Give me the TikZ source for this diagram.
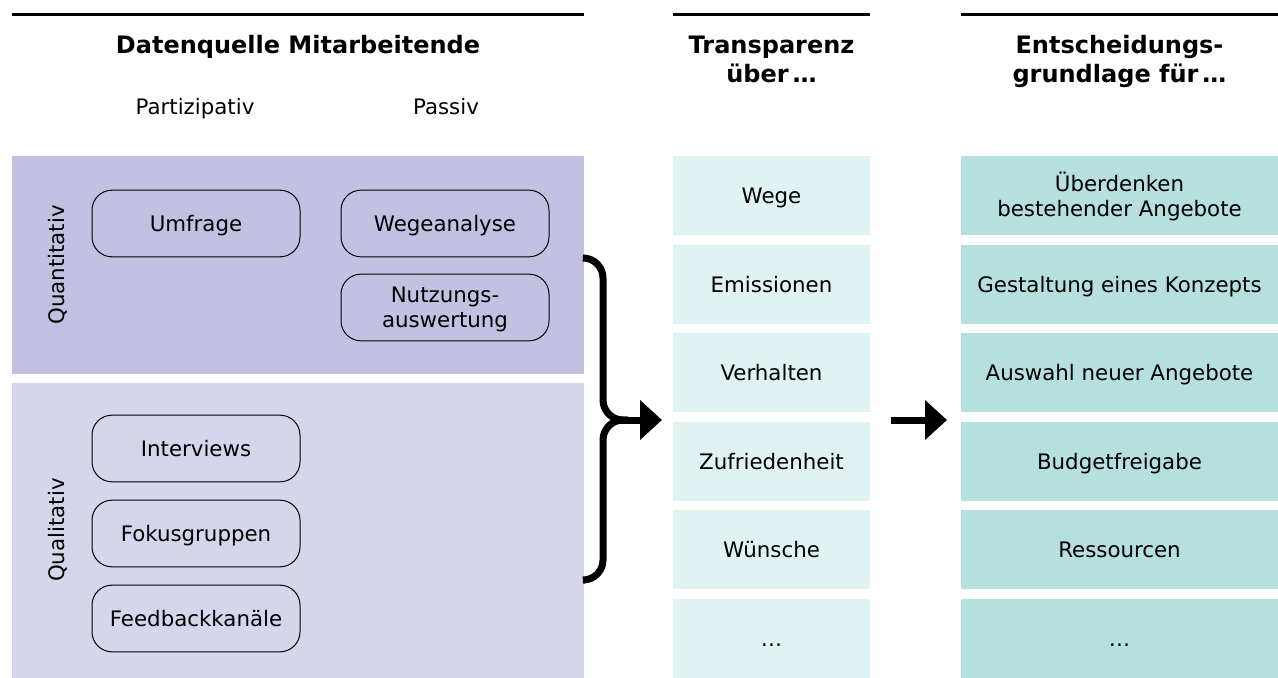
\documentclass[tikz,border=0pt]{standalone}
\usepackage{fontspec}
\setmainfont{DejaVu Sans}
\usetikzlibrary{arrows.meta}
\newcommand{\twoline}[2]{\begin{tabular}[t]{@{}c@{}}#1\\#2\end{tabular}}

\begin{document}
\begin{tikzpicture}[x=0.75pt,y=-0.75pt,
  headline/.style={line width=2.25pt},
  headtext/.style={font=\bfseries\fontsize{18}{21.75}\selectfont,align=center,text height=13.1pt,text depth=0pt},
  headpair/.style={text depth=21.75pt},
  bodytext/.style={font=\fontsize{16}{18.75}\selectfont,align=center,text height=11.7pt,text depth=0pt},
  bodypair/.style={text depth=18.75pt},
  panel/.style={anchor=north west,inner sep=0,minimum width=429pt},
  method/.style={bodytext,draw,line width=0.75pt,rounded corners=15pt,minimum width=156pt,minimum height=50pt},
  cell/.style={bodytext,inner sep=0,minimum height=59.6pt},
  fatarrow/.style={line width=5.25pt,-{Triangle[length=16.5pt,width=29pt]}}]
\definecolor{quant}{HTML}{C2C1E1}
\definecolor{qual}{HTML}{D5D5EB}
\definecolor{transp}{HTML}{E1F2F2}
\definecolor{basis}{HTML}{B5E0DD}
\useasboundingbox (0,0) rectangle (1278,678);
\draw[headline] (12,14) -- (584,14);
\draw[headline] (673,14) -- (870,14);
\draw[headline] (961,14) -- (1278,14);
\node[headtext] (srchead) at (298,44.7) {Datenquelle Mitarbeitende};
\node[headtext,headpair] (transphead) at (771.5,59.2) {\twoline{Transparenz}{über\,…}};
\node[headtext,headpair] (basishead) at (1119.5,59.2) {\twoline{Entscheidungs-}{grundlage für\,…}};
\node[bodytext] (partiz) at (195,107) {Partizipativ};
\node[bodytext] (passiv) at (446,107) {Passiv};
\node[panel,fill=quant,minimum height=163.5pt] (quantpanel) at (12,156) {};
\node[panel,fill=qual,minimum height=221.25pt] (qualpanel) at (12,383) {};
\node[bodytext,rotate=90] (quantlabel) at (57,265) {Quantitativ};
\node[bodytext,rotate=90] (quallabel) at (57,530) {Qualitativ};
\node[method] (umfrage) at (196,223.5) {Umfrage};
\node[method] (wege) at (445,223.5) {Wegeanalyse};
\node[method,bodypair] (nutzung) at (445,307.5) {\twoline{Nutzungs-}{auswertung}};
\node[method] (interviews) at (196,448.5) {Interviews};
\node[method] (fokus) at (196,533.5) {Fokusgruppen};
\node[method] (feedback) at (196,618.5) {Feedbackkanäle};
  \foreach \txt/\i in {Wege/0,Emissionen/1,Verhalten/2,Zufriedenheit/3,Wünsche/4,…/5}
  {  \node[cell,fill=transp,minimum width=147.75pt] (transp\i) at (771.5,195.75+88.5*\i) {\txt};}
\node[cell,bodypair,fill=basis,minimum width=237.75pt] (basis0) at (1119.5,195.75) {\twoline{Überdenken}{bestehender Angebote}};
  \foreach \txt/\i in {Gestaltung eines Konzepts/1,Auswahl neuer Angebote/2,Budgetfreigabe/3,Ressourcen/4,…/5}
  {  \node[cell,fill=basis,minimum width=237.75pt] (basis\i) at (1119.5,195.75+88.5*\i) {\txt};}
\coordinate (bracetop) at (585,258);
\coordinate (bracebot) at (585,580);
\coordinate (bracemid) at (603,420);
\coordinate (bracejoin) at (618,420);
\coordinate (tipa) at (662,420);
\coordinate (arrowstart) at (891,420);
\coordinate (tipb) at (947,420);
\draw[line width=5.25pt,rounded corners=15pt] (bracetop) -| (bracemid) -- ++(25,0);
\draw[line width=5.25pt,rounded corners=15pt] (bracebot) -| (bracemid) -- ++(25,0);
\draw[fatarrow] (bracejoin) -- (tipa);
\draw[fatarrow] (arrowstart) -- (tipb);
\end{tikzpicture}
\end{document}
